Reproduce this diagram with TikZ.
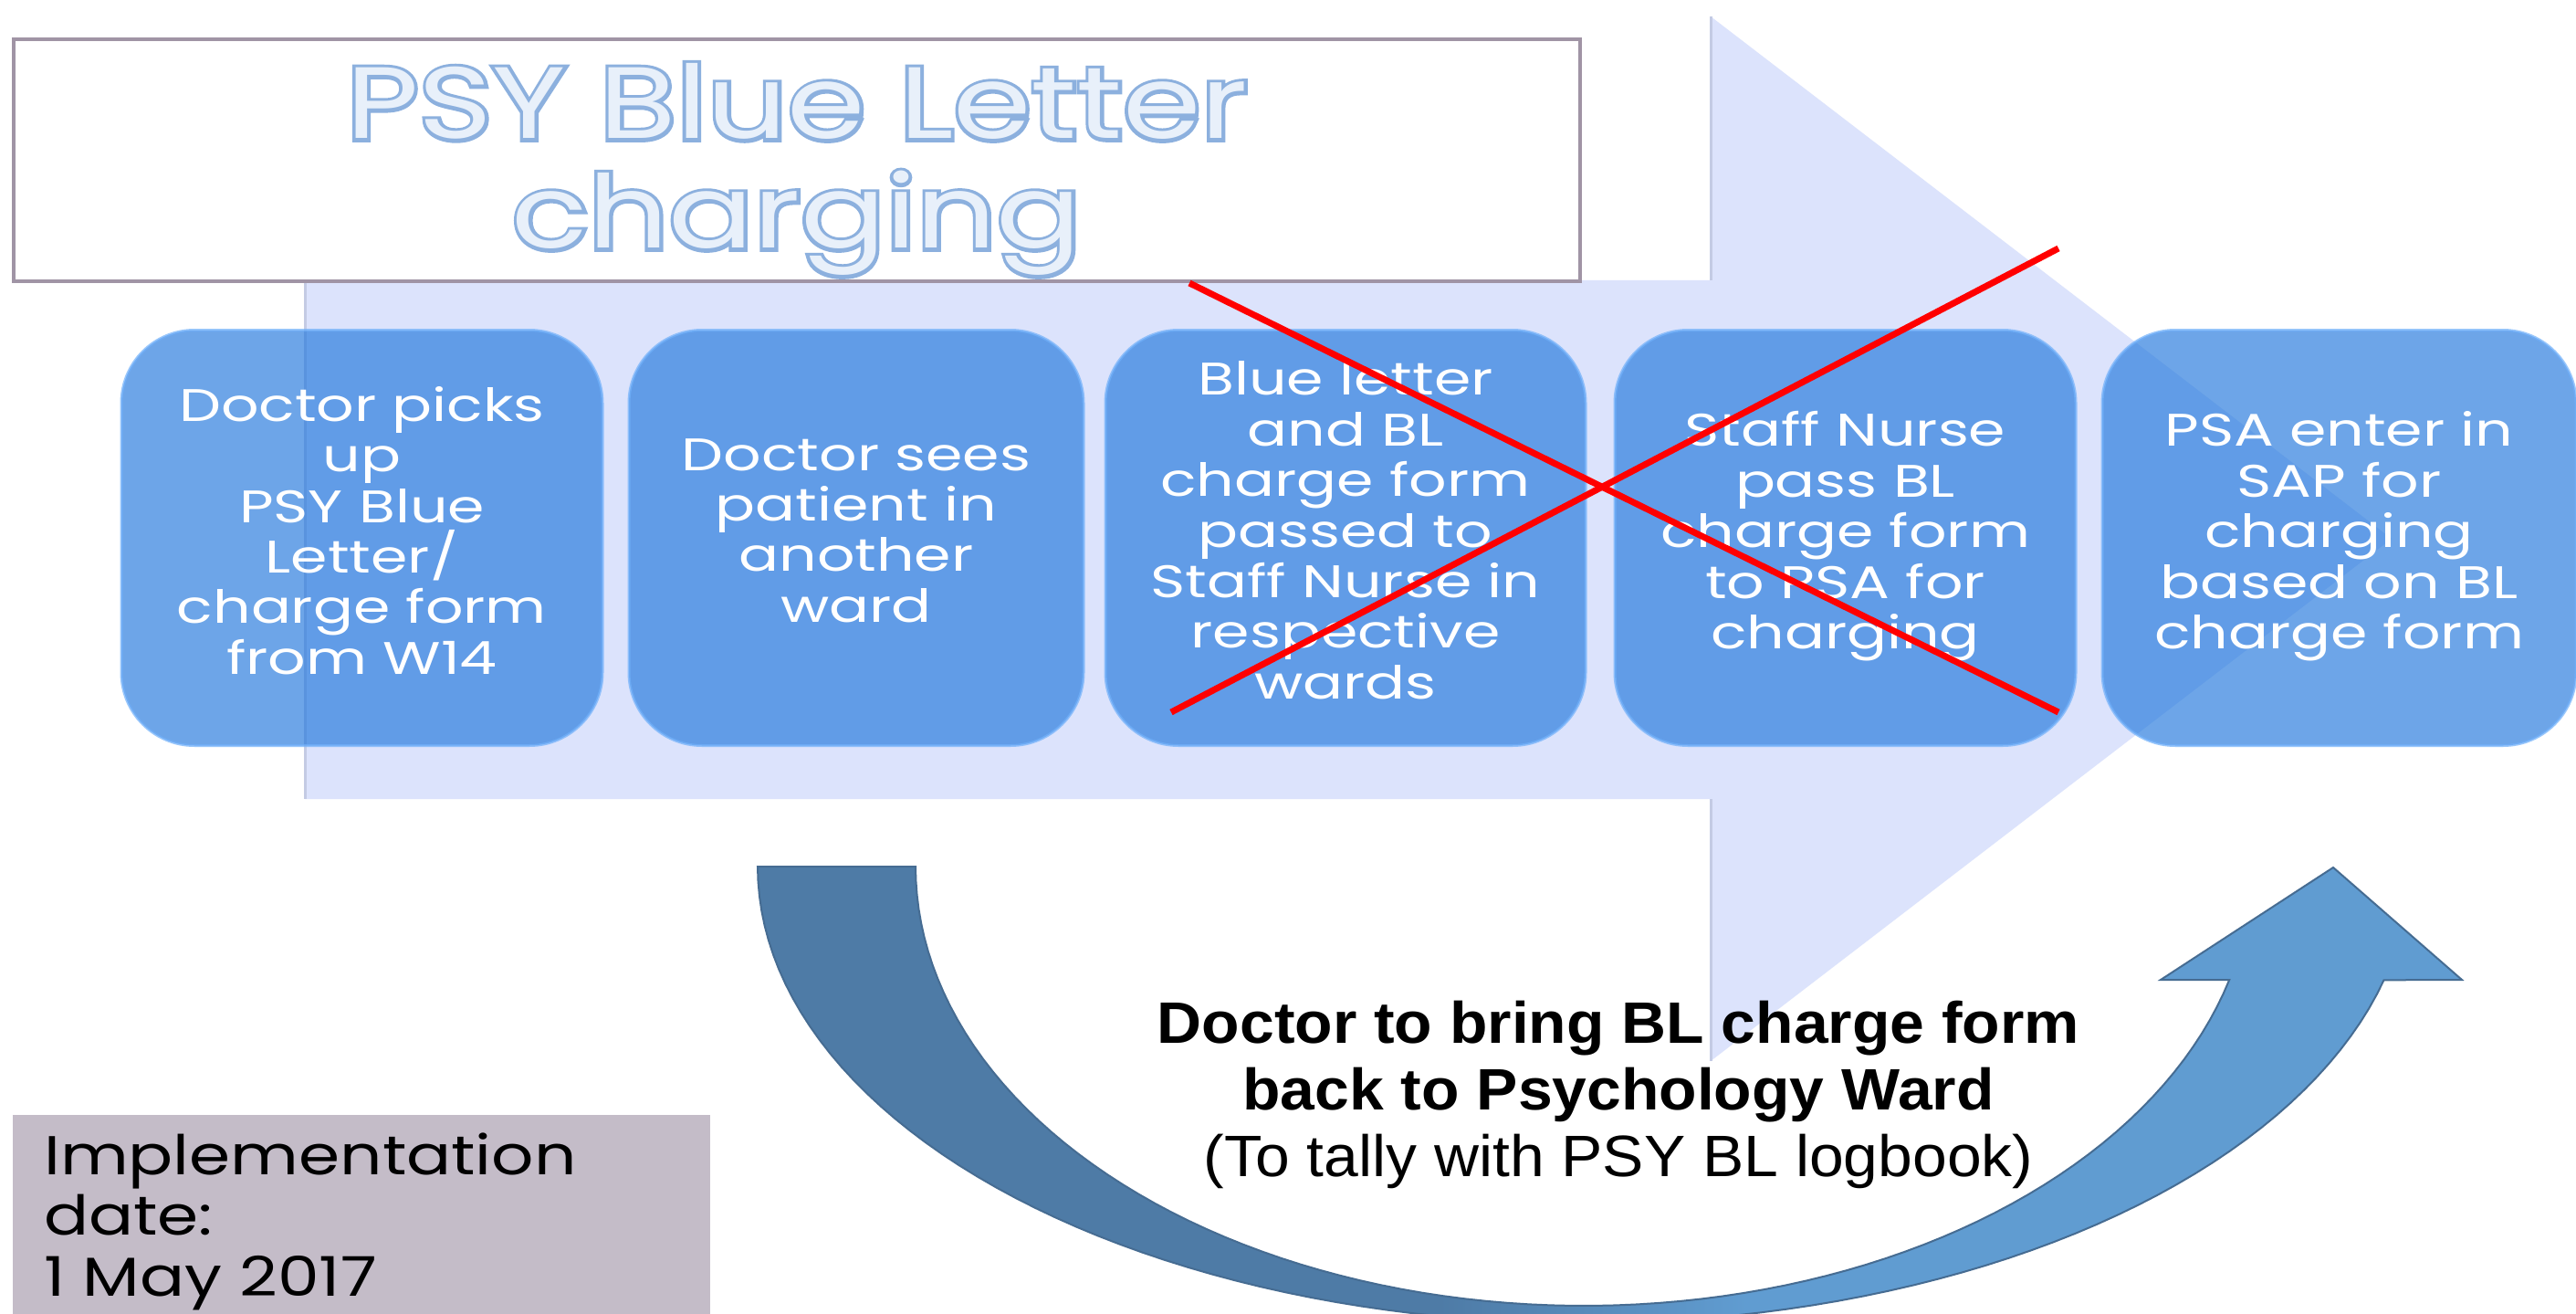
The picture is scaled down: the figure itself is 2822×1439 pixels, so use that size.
\documentclass[tikz,border=0pt]{standalone}
\usepackage{fontspec}
\newfontfamily\boxfont[FakeStretch=1.30]{Poppins}
\newfontfamily\titlefont[FakeStretch=1.24]{Poppins}
\newfontfamily\titleoutline[FakeStretch=1.24,FakeBold=7]{Poppins}
\newfontfamily\implfont[FakeStretch=1.21]{Poppins}
\newfontfamily\ufont[FakeStretch=1.06]{Liberation Sans}
\definecolor{arrowbg}{RGB}{220,227,252}
\definecolor{arrowedge}{RGB}{196,203,228}
\definecolor{titleborder}{RGB}{160,148,165}
\definecolor{boxcol}{RGB}{32,118,220}
\definecolor{boxrim}{RGB}{112,176,250}
\definecolor{udark}{RGB}{78,123,166}
\definecolor{ulight}{RGB}{96,156,209}
\definecolor{uedge}{RGB}{70,108,146}
\definecolor{implcol}{RGB}{196,188,200}
\definecolor{titlefill}{RGB}{232,240,250}
\definecolor{titleline}{RGB}{140,176,222}
\definecolor{crossred}{RGB}{255,0,0}
\pgfdeclarehorizontalshading{ushade}{100bp}{color(0bp)=(udark); color(45bp)=(udark); color(54bp)=(ulight); color(100bp)=(ulight)}
\begin{document}
\begin{tikzpicture}[x=1pt,y=-1pt,
  titlebox/.style={draw=titleborder, line width=4pt, fill=white, minimum width=1716pt, minimum height=265pt, inner sep=0pt},
  titletext/.style={font=\titlefont\fontsize{111}{121}\selectfont, anchor=base, inner sep=0pt, text=titlefill},
  titleback/.style={font=\titleoutline\fontsize{111}{121}\selectfont, anchor=base, inner sep=0pt, text=titleline},
  stepbox/.style={rounded corners=80pt, fill=boxcol, fill opacity=0.65, text opacity=1,
     draw=boxrim, draw opacity=0.7, line width=3pt, minimum height=455pt, inner sep=0pt,
     text=white, align=center, font=\boxfont\fontsize{50}{55.4}\selectfont,
     execute at begin node={\rule{0pt}{45.6pt}\strut}, execute at end node=\strut},
  crossline/.style={draw=crossred, line width=7pt},
  utext/.style={font=\ufont\fontsize{64}{73}\selectfont, align=center, inner sep=0pt,
     execute at begin node=\strut, execute at end node=\strut},
  implbox/.style={fill=implcol, minimum width=764pt, minimum height=224pt, inner sep=0pt},
  impltext/.style={font=\implfont\fontsize{60}{66.5}\selectfont, align=left, inner sep=0pt, anchor=west,
     execute at begin node=\strut, execute at end node=\strut}
]
\useasboundingbox (0,0) rectangle (2822,1439);
\fill[white] (0,0) rectangle (2822,1439);

% big background arrow
\fill[arrowbg]
  (334,307) -- (1874,307) -- (1874,18) -- (2620,590) -- (1874,1162) -- (1874,875) -- (334,875) -- cycle;
\draw[arrowedge, line width=3pt] (334,307) -- (334,875);
\draw[arrowedge, line width=3pt] (1874,18) -- (1874,307);
\draw[arrowedge, line width=3pt] (1874,875) -- (1874,1162);

% title box
\node[titlebox] (title) at (873,175.5) {};
\node[titleback] (title1o) at (873,152) {PSY Blue Letter};
\node[titleback] (title2o) at (873,272) {charging};
\node[titletext] (title1) at (873,152) {PSY Blue Letter};
\node[titletext] (title2) at (873,272) {charging};

% process boxes
\node[stepbox, minimum width=527pt] (b1) at (396.5,589) {Doctor picks\\up\\PSY Blue\\Letter/\\charge form\\from W14};
\node[stepbox, minimum width=498pt] (b2) at (938,589) {Doctor sees\\patient in\\another\\ward};
\node[stepbox, minimum width=526pt] (b3) at (1474,589) {Blue letter\\and BL\\charge form\\passed to\\Staff Nurse in\\respective\\wards};
\node[stepbox, minimum width=505pt] (b4) at (2021.5,589) {Staff Nurse\\pass BL\\charge form\\to PSA for\\charging};
\node[stepbox, minimum width=519pt] (b5) at (2562.5,589) {PSA enter in\\SAP for\\charging\\based on BL\\charge form};

% red cross
\coordinate (xa) at (1303,310);
\coordinate (xb) at (2255,780);
\coordinate (xc) at (1283,780);
\coordinate (xd) at (2255,272);
\draw[crossline] (xa) -- (xb);
\draw[crossline] (xc) -- (xd);

% curved U arrow
\shadedraw[shading=ushade, draw=uedge, line width=2pt]
  plot[domain=180:14.4, samples=90] ({1735+905*cos(\x)},{949+500*sin(\x)})
  -- (2697,1073) -- (2556,950) -- (2367,1073)
  -- plot[domain=14.94:180, samples=90] ({1735+732*cos(\x)},{949+481*sin(\x)})
  -- cycle;

\node[utext] (note) at (1773,1203) {\textbf{Doctor to bring BL charge form}\\\textbf{back to Psychology Ward}\\(To tally with PSY BL logbook)};

% implementation date
\node[implbox] (impl) at (396,1333) {};
\node[impltext] (impltxt) at (48,1340) {Implementation\\date:\\1 May 2017};
\end{tikzpicture}
\end{document}
